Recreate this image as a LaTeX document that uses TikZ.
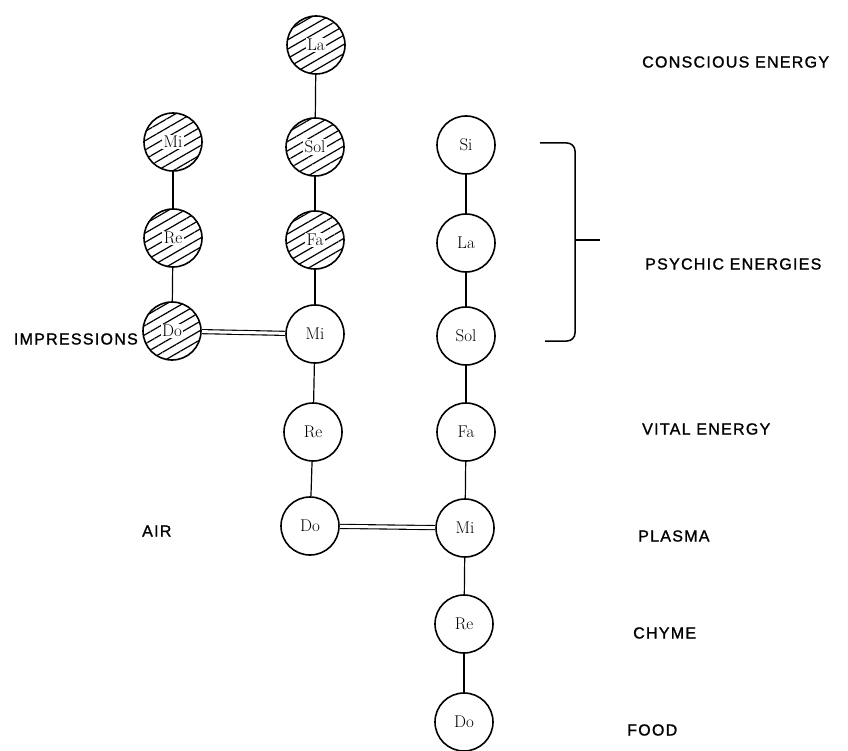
\documentclass[tikz,border=0pt]{standalone}
\usepackage{fontspec}
\usetikzlibrary{patterns.meta}
\newfontfamily\labfont[LetterSpace=8,FakeBold=1.2]{Liberation Sans}
\newcommand\wb[1]{{\setlength\fboxsep{1.5pt}\colorbox{white}{#1}}}
\tikzset{
  note/.style={circle,draw,line width=1.6pt,minimum size=58pt,inner sep=0pt,
    font=\fontsize{17}{17}\selectfont},
  hatched/.style={note,pattern={Lines[angle=30,distance=8pt,line width=1.2pt]}},
  link/.style={line width=1.2pt},
  dbl/.style={line width=1.1pt,double=white,double distance=3pt},
  lbl/.style={font=\labfont\fontsize{16}{16}\selectfont,anchor=west,inner sep=0pt},
}
\begin{document}
\begin{tikzpicture}[x=1pt,y=-1pt]
\useasboundingbox[fill=white] (0,0) rectangle (848,751);
% column 1
\node[hatched] (mi1) at (173,142) {\wb{Mi}};
\node[hatched] (re1) at (173,238) {\wb{Re}};
\node[hatched] (do1) at (172,331) {\wb{Do}};
% column 2
\node[hatched] (la2) at (316,45) {\wb{La}};
\node[hatched] (sol2) at (315,147) {\wb{Sol}};
\node[hatched] (fa2) at (315,240) {\wb{Fa}};
\node[note] (mi2) at (315,334) {Mi};
\node[note] (re2) at (313,432) {Re};
\node[note] (do2) at (310,526) {Do};
% column 3
\node[note] (si3) at (466,145) {Si};
\node[note] (la3) at (466,243) {La};
\node[note] (sol3) at (466,336) {Sol};
\node[note] (fa3) at (466,432) {Fa};
\node[note] (mi3) at (465,528) {Mi};
\node[note] (re3) at (464,624) {Re};
\node[note] (do3) at (464,722) {Do};
% links
\draw[link] (mi1) -- (re1);
\draw[link] (re1) -- (do1);
\draw[link] (la2) -- (sol2);
\draw[link] (sol2) -- (fa2);
\draw[link] (fa2) -- (mi2);
\draw[link] (mi2) -- (re2);
\draw[link] (re2) -- (do2);
\draw[link] (si3) -- (la3);
\draw[link] (la3) -- (sol3);
\draw[link] (sol3) -- (fa3);
\draw[link] (fa3) -- (mi3);
\draw[link] (mi3) -- (re3);
\draw[link] (re3) -- (do3);
\draw[dbl] (do1) -- (mi2);
\draw[dbl] (do2) -- (mi3);
% bracket
\coordinate (bt) at (540,143);
\coordinate (bc) at (575,143);
\coordinate (bd) at (575,341);
\coordinate (bb) at (545,341);
\coordinate (bm) at (575,240);
\coordinate (bk) at (600,240);
\draw[link,line width=1.5pt,rounded corners=8pt] (bt) -- (bc) -- (bd) -- (bb);
\draw[link,line width=1.5pt] (bm) -- (bk);
% labels
\node[lbl] (t1) at (642,62) {CONSCIOUS ENERGY};
\node[lbl] (t2) at (645,264) {PSYCHIC ENERGIES};
\node[lbl] (t3) at (642,429) {VITAL ENERGY};
\node[lbl] (t4) at (638,536) {PLASMA};
\node[lbl] (t5) at (633,633) {CHYME};
\node[lbl] (t6) at (627,730) {FOOD};
\node[lbl] (t7) at (142,531) {AIR};
\node[lbl,anchor=east] (t8) at (138,339) {IMPRESSIONS};
\end{tikzpicture}
\end{document}
